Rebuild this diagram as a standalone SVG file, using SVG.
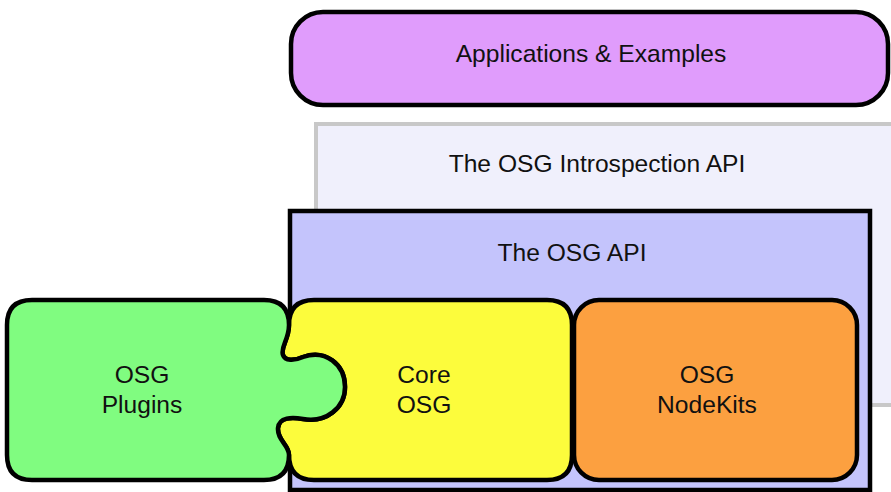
<svg xmlns="http://www.w3.org/2000/svg" width="891" height="492" viewBox="0 0 891 492">
<style>
  text { font-family: "Liberation Sans", Arial, Helvetica, sans-serif; font-size: 24.6px; fill: #111; text-anchor: middle; }
  .piece { stroke: #000; stroke-width: 4.5; stroke-linejoin: round; }
</style>
<rect width="891" height="492" fill="#ffffff"/>
<g id="applications">
  <rect class="piece" x="291" y="12" width="597" height="93" rx="32" ry="32" fill="#e09cfc"/>
  <text x="591" y="62">Applications &amp; Examples</text>
</g>
<g id="introspection">
  <rect x="316" y="124" width="600" height="281" fill="#f0f0fc" stroke="#c8c8c8" stroke-width="4"/>
  <text x="597" y="172">The OSG Introspection API</text>
</g>
<g id="osg-api">
  <rect x="290" y="211" width="580" height="279" fill="#c4c4fc" stroke="#000" stroke-width="4.5"/>
  <text x="572" y="261">The OSG API</text>
</g>
<g id="core-osg">
  <path class="piece" fill="#fcfc3c" d="M314,300 H547 Q572,300 572,325 V455 Q572,480 547,480 H314 Q289,480 289,455 C289,445 277,440 278,428 C279,417 292,417 303,419 C326,423 345,408 345,387 C345,364 325,349 303,357 C294,361 285,361 283,355 C280,347 289,340 289,325 Q289,300 314,300 Z"/>
  <text x="424" y="383">Core</text>
  <text x="424" y="413">OSG</text>
</g>
<g id="osg-plugins">
  <path class="piece" fill="#80fc80" d="M32,300 H264 Q289,300 289,325 C289,340 280,347 283,355 C285,361 294,361 303,357 C325,349 345,364 345,387 C345,408 326,423 303,419 C292,417 279,417 278,428 C277,440 289,445 289,455 Q289,480 264,480 H32 Q7,480 7,455 V325 Q7,300 32,300 Z"/>
  <text x="142" y="383">OSG</text>
  <text x="142" y="413">Plugins</text>
</g>
<g id="osg-nodekits">
  <rect class="piece" x="574" y="300" width="283" height="180" rx="25" ry="25" fill="#fca040"/>
  <text x="707" y="383">OSG</text>
  <text x="707" y="413">NodeKits</text>
</g>
<g id="connectors"></g>
</svg>
